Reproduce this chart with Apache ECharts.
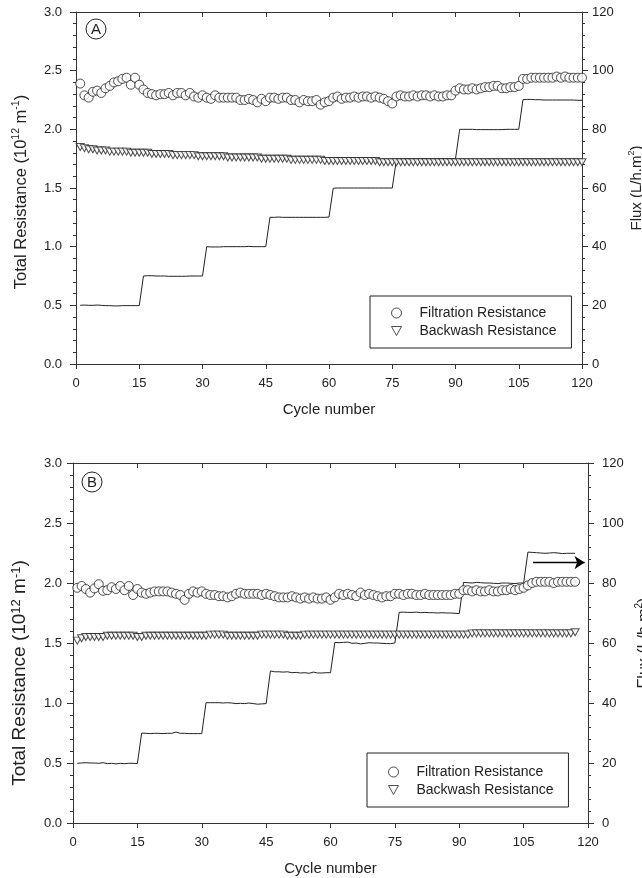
<!DOCTYPE html>
<html>
<head>
    <meta charset="utf-8">
    <title>Total resistance and flux vs cycle number</title>
    <script src="https://cdn.jsdelivr.net/npm/echarts@6/dist/echarts.min.js"></script>
    <style>
        html, body { margin: 0; padding: 0; background: #fff; }
        #chart { width: 642px; height: 878px; }
    </style>
</head>
<body>
    <div id="chart"></div>
    <script type="text/javascript">
        // ---- panel A ----
        var filtrationA = [
            2.39, 2.29, 2.27, 2.32, 2.33, 2.31, 2.35, 2.37, 2.40, 2.41, 2.43, 2.44, 2.38, 2.44, 2.38,
            2.34, 2.31, 2.30, 2.29, 2.30, 2.30, 2.31, 2.29, 2.31, 2.31, 2.29, 2.31, 2.28, 2.27, 2.29,
            2.27, 2.26, 2.29, 2.27, 2.27, 2.27, 2.27, 2.27, 2.25, 2.25, 2.26, 2.25, 2.23, 2.26, 2.24,
            2.27, 2.27, 2.26, 2.27, 2.27, 2.25, 2.25, 2.23, 2.25, 2.24, 2.24, 2.25, 2.21, 2.23, 2.24,
            2.27, 2.28, 2.26, 2.27, 2.27, 2.28, 2.27, 2.28, 2.28, 2.27, 2.28, 2.27, 2.26, 2.24, 2.22,
            2.28, 2.29, 2.28, 2.28, 2.29, 2.28, 2.29, 2.29, 2.28, 2.29, 2.28, 2.28, 2.29, 2.29, 2.33,
            2.35, 2.34, 2.34, 2.35, 2.34, 2.35, 2.36, 2.36, 2.37, 2.37, 2.35, 2.35, 2.36, 2.36, 2.37,
            2.43, 2.43, 2.44, 2.44, 2.44, 2.44, 2.44, 2.44, 2.45, 2.44, 2.45, 2.44, 2.44, 2.44, 2.44
        ];
        var backwashA = [
            1.85, 1.84, 1.83, 1.83, 1.82, 1.82, 1.82, 1.81, 1.81, 1.81, 1.81, 1.81, 1.80, 1.80, 1.80,
            1.80, 1.80, 1.79, 1.79, 1.79, 1.79, 1.79, 1.78, 1.78, 1.78, 1.78, 1.78, 1.78, 1.77, 1.77,
            1.77, 1.77, 1.77, 1.77, 1.77, 1.76, 1.76, 1.76, 1.76, 1.76, 1.76, 1.76, 1.76, 1.75, 1.75,
            1.75, 1.75, 1.75, 1.75, 1.75, 1.74, 1.74, 1.74, 1.74, 1.74, 1.74, 1.74, 1.74, 1.73, 1.73,
            1.73, 1.73, 1.73, 1.73, 1.73, 1.73, 1.73, 1.73, 1.73, 1.73, 1.73, 1.72, 1.72, 1.72, 1.72,
            1.72, 1.72, 1.72, 1.72, 1.72, 1.72, 1.72, 1.72, 1.72, 1.72, 1.72, 1.72, 1.72, 1.72, 1.72,
            1.72, 1.72, 1.72, 1.72, 1.72, 1.72, 1.72, 1.72, 1.72, 1.72, 1.72, 1.72, 1.72, 1.72, 1.72,
            1.72, 1.72, 1.72, 1.72, 1.72, 1.72, 1.72, 1.72, 1.72, 1.72, 1.72, 1.72, 1.72, 1.72, 1.72
        ];
        var fluxA = [
            20.0, 20.1, 20.0, 20.0, 20.1, 20.0, 19.9, 19.9, 19.8, 19.8, 19.9, 19.9, 19.9, 19.9, 19.9,
            30.0, 30.1, 30.1, 30.0, 30.0, 30.0, 29.9, 29.9, 29.9, 29.9, 29.9, 30.0, 30.0, 30.0, 30.0,
            40.0, 39.9, 39.9, 39.9, 40.0, 40.0, 40.0, 40.0, 40.0, 40.0, 40.1, 40.0, 40.0, 40.0, 40.0,
            50.0, 50.0, 50.1, 50.0, 50.0, 50.0, 50.0, 50.0, 50.0, 50.0, 50.0, 50.0, 50.0, 50.0, 50.1,
            59.9, 60.0, 60.0, 60.0, 60.0, 60.0, 60.0, 60.0, 60.0, 60.0, 60.0, 60.0, 60.0, 60.0, 60.0,
            69.8, 69.9, 69.9, 70.0, 70.0, 70.0, 70.0, 70.0, 69.9, 69.9, 70.0, 70.0, 70.0, 70.0, 70.0,
            80.0, 80.0, 80.0, 80.0, 79.9, 79.9, 79.9, 79.9, 79.9, 79.9, 79.9, 80.0, 80.0, 80.0, 80.0,
            90.1, 90.2, 90.2, 90.1, 90.1, 90.0, 90.0, 90.0, 90.0, 90.0, 90.0, 90.0, 90.0, 89.9, 89.9
        ];

        // ---- panel B ----
        var filtrationB = [
            1.96, 1.975, 1.95, 1.92, 1.955, 1.99, 1.935, 1.94, 1.965, 1.95, 1.975, 1.94, 1.975, 1.90, 1.95,
            1.92, 1.91, 1.92, 1.93, 1.93, 1.93, 1.93, 1.92, 1.91, 1.90, 1.86, 1.91, 1.93, 1.92, 1.93,
            1.91, 1.90, 1.90, 1.89, 1.89, 1.88, 1.89, 1.91, 1.92, 1.91, 1.91, 1.91, 1.91, 1.90, 1.91,
            1.90, 1.89, 1.88, 1.88, 1.88, 1.89, 1.88, 1.87, 1.88, 1.87, 1.88, 1.87, 1.87, 1.88, 1.86,
            1.88, 1.91, 1.90, 1.91, 1.90, 1.89, 1.92, 1.90, 1.91, 1.90, 1.89, 1.88, 1.89, 1.89, 1.91,
            1.91, 1.90, 1.91, 1.91, 1.90, 1.90, 1.91, 1.90, 1.90, 1.90, 1.90, 1.90, 1.90, 1.91, 1.91,
            1.94, 1.94, 1.93, 1.94, 1.93, 1.93, 1.94, 1.93, 1.93, 1.94, 1.94, 1.95, 1.94, 1.95, 1.96,
            1.98, 2.00, 2.01, 2.01, 2.01, 2.01, 2.00, 2.01, 2.01, 2.01, 2.01, 2.01
        ];
        var backwashB = [
            1.52, 1.54, 1.55, 1.55, 1.55, 1.55, 1.55, 1.56, 1.56, 1.56, 1.56, 1.56, 1.56, 1.56, 1.55,
            1.55, 1.56, 1.56, 1.56, 1.56, 1.56, 1.56, 1.56, 1.56, 1.56, 1.56, 1.56, 1.56, 1.56, 1.56,
            1.56, 1.57, 1.57, 1.57, 1.57, 1.56, 1.56, 1.56, 1.56, 1.56, 1.56, 1.56, 1.56, 1.57, 1.57,
            1.57, 1.57, 1.57, 1.57, 1.56, 1.56, 1.56, 1.56, 1.57, 1.57, 1.57, 1.57, 1.57, 1.57, 1.57,
            1.57, 1.57, 1.57, 1.57, 1.57, 1.57, 1.57, 1.57, 1.57, 1.57, 1.57, 1.57, 1.57, 1.57, 1.57,
            1.57, 1.57, 1.57, 1.57, 1.57, 1.57, 1.57, 1.57, 1.57, 1.57, 1.57, 1.57, 1.57, 1.57, 1.57,
            1.57, 1.57, 1.58, 1.58, 1.58, 1.58, 1.58, 1.58, 1.58, 1.58, 1.58, 1.58, 1.58, 1.58, 1.58,
            1.58, 1.58, 1.58, 1.58, 1.58, 1.58, 1.58, 1.58, 1.58, 1.58, 1.58, 1.59
        ];
        var fluxB = [
            19.9, 20.0, 20.1, 20.0, 20.0, 19.9, 20.1, 19.8, 19.9, 19.7, 19.9, 19.8, 19.9, 19.9, 19.8,
            30.0, 29.9, 29.8, 29.9, 29.9, 29.8, 29.9, 29.9, 30.3, 29.9, 29.9, 29.8, 29.8, 29.8, 29.8,
            40.1, 40.1, 40.1, 40.1, 40.0, 40.1, 40.0, 39.8, 39.9, 39.8, 40.0, 39.8, 39.6, 39.7, 39.8,
            50.7, 50.4, 50.4, 50.3, 50.4, 50.1, 50.2, 50.0, 50.1, 49.9, 50.3, 50.0, 50.0, 50.1, 50.1,
            60.2, 60.1, 60.2, 60.3, 59.9, 60.0, 59.7, 59.9, 60.1, 60.0, 60.0, 59.9, 59.8, 59.8, 60.0,
            70.2, 70.3, 70.2, 70.2, 70.3, 70.1, 70.2, 70.1, 70.1, 70.0, 70.1, 70.0, 70.0, 69.9, 69.8,
            80.2, 80.1, 80.0, 80.2, 80.1, 80.0, 80.0, 79.9, 79.8, 80.0, 80.0, 79.9, 79.8, 80.0, 80.0,
            90.3, 90.2, 90.1, 90.0, 89.9, 90.0, 90.1, 90.0, 89.8, 89.9, 89.9, 89.9
        ];
        // arrow in panel B pointing at the flux axis: [cycle, flux]
        var arrowB = [[107.2, 86.8], [119.2, 86.8]];

        var xTicks = { min: 0, max: 120, interval: 15 };
        var resTicks = { min: 0, max: 3, interval: 0.5 };
        var fluxTicks = { min: 0, max: 120, interval: 20 };

        var FONT = 'Liberation Sans, Arial, sans-serif';
        var INK = '#222';

        function supStyle(size) {
            return { s: { fontFamily: FONT, fontSize: size, color: INK, verticalAlign: 'top', lineHeight: 20 } };
        }

        function pts(arr) {
            return arr.map(function(v, i) { return [i + 1, v]; });
        }

        function xAxes(grid) {
            return [{
                type: 'value', gridIndex: grid, position: 'bottom',
                min: xTicks.min, max: xTicks.max, interval: xTicks.interval,
                name: 'Cycle number', nameLocation: 'middle', nameGap: 38,
                nameTextStyle: { fontFamily: FONT, fontSize: 15, color: INK },
                axisLine: { show: true, onZero: false, lineStyle: { color: '#333', width: 1 } },
                axisTick: { show: true, inside: false, length: 5, lineStyle: { color: '#333' } },
                axisLabel: { fontFamily: FONT, fontSize: 13, color: INK, margin: 13 },
                splitLine: { show: false }
            }, {
                type: 'value', gridIndex: grid, position: 'top',
                min: xTicks.min, max: xTicks.max, interval: xTicks.interval,
                axisLine: { show: true, onZero: false, lineStyle: { color: '#333', width: 1 } },
                axisTick: { show: true, inside: true, length: 5, lineStyle: { color: '#333' } },
                axisLabel: { show: false },
                splitLine: { show: false }
            }];
        }

        // p: per-panel label margins, title sizes and title offsets
        function yAxes(grid, p) {
            return [{
                type: 'value', gridIndex: grid, position: 'left',
                min: resTicks.min, max: resTicks.max, interval: resTicks.interval,
                name: 'Total Resistance (10{s|12} m{s|-1})', nameLocation: 'middle', nameRotate: 90, nameGap: p.leftGap,
                nameTextStyle: {
                    fontFamily: FONT, fontSize: p.leftSize, color: INK, lineHeight: 20,
                    padding: p.leftPad, rich: supStyle(p.leftSize - 6)
                },
                axisLine: { show: true, onZero: false, lineStyle: { color: '#333', width: 1 } },
                axisTick: { show: true, length: 6, lineStyle: { color: '#333' } },
                minorTick: { show: true, splitNumber: 5, length: 3, lineStyle: { color: '#333' } },
                axisLabel: {
                    fontFamily: FONT, fontSize: 13, color: INK, margin: p.leftMargin,
                    formatter: function(v) { return v.toFixed(1); }
                },
                splitLine: { show: false }
            }, {
                type: 'value', gridIndex: grid, position: 'right',
                min: fluxTicks.min, max: fluxTicks.max, interval: fluxTicks.interval,
                name: 'Flux (L/h.m{s|2})', nameLocation: 'middle', nameRotate: 90, nameGap: p.rightGap,
                nameTextStyle: {
                    fontFamily: FONT, fontSize: p.rightSize, color: INK, lineHeight: 20,
                    rich: supStyle(p.rightSize - 6)
                },
                axisLine: { show: true, onZero: false, lineStyle: { color: '#333', width: 1 } },
                axisTick: { show: true, length: 6, lineStyle: { color: '#333' } },
                minorTick: { show: true, splitNumber: 5, length: 3, lineStyle: { color: '#333' } },
                axisLabel: { fontFamily: FONT, fontSize: 13, color: INK, margin: p.rightMargin },
                splitLine: { show: false }
            }];
        }

        function panelSeries(xi, yi, filt, back, flux, arrow) {
            var fluxSeries = {
                name: 'Flux', type: 'line', xAxisIndex: xi, yAxisIndex: yi + 1,
                data: pts(flux), showSymbol: false, symbol: 'none',
                lineStyle: { color: INK, width: 1 }, z: 1
            };
            if (arrow) {
                fluxSeries.markLine = {
                    silent: true, symbol: ['none', 'arrow'], symbolSize: 10,
                    label: { show: false },
                    lineStyle: { color: '#000', width: 1.3, type: 'solid' },
                    data: [[{ coord: arrow[0] }, { coord: arrow[1] }]]
                };
            }
            return [fluxSeries, {
                name: 'Backwash Resistance', type: 'scatter', xAxisIndex: xi, yAxisIndex: yi,
                data: pts(back), symbol: 'triangle', symbolRotate: 180, symbolSize: [8, 7],
                itemStyle: { color: '#fff', borderColor: INK, borderWidth: 1 }, z: 2
            }, {
                name: 'Filtration Resistance', type: 'scatter', xAxisIndex: xi, yAxisIndex: yi,
                data: pts(filt), symbol: 'circle', symbolSize: 9,
                itemStyle: { color: '#fff', borderColor: INK, borderWidth: 1 }, z: 3
            }];
        }

        function legendBox(left, top, pad) {
            return {
                orient: 'vertical', left: left, top: top,
                padding: pad, itemGap: 4, itemWidth: 10, itemHeight: 10,
                borderColor: INK, borderWidth: 1, selectedMode: false,
                itemStyle: { borderWidth: 1 },
                textStyle: { fontFamily: FONT, fontSize: 14, color: INK, padding: [0, 0, 0, 13] },
                data: [
                    { name: 'Filtration Resistance', icon: 'circle' },
                    { name: 'Backwash Resistance', icon: 'path://M0,0L10,0L5,9Z' }
                ]
            };
        }

        function panelTag(cx, cy, letter) {
            return [{
                type: 'circle', shape: { cx: cx, cy: cy, r: 10 },
                style: { fill: 'none', stroke: INK, lineWidth: 1 }
            }, {
                type: 'text', x: cx, y: cy + 1,
                style: { text: letter, align: 'center', verticalAlign: 'middle', font: '15px ' + FONT, fill: INK }
            }];
        }

        var chart = echarts.init(document.getElementById('chart'), null, { renderer: 'canvas' });
        chart.setOption({
            backgroundColor: '#fff',
            animation: false,
            grid: [
                { left: 76, right: 60, top: 12, height: 352, containLabel: false, outerBoundsMode: 'none' },
                { left: 73, right: 54, top: 463, height: 360, containLabel: false, outerBoundsMode: 'none' }
            ],
            xAxis: xAxes(0).concat(xAxes(1)),
            yAxis: yAxes(0, { leftMargin: 14, leftGap: 45, leftSize: 16.5, leftPad: [0, 8, 0, 0], rightMargin: 10, rightGap: 45, rightSize: 15 })
                .concat(yAxes(1, { leftMargin: 11, leftGap: 43, leftSize: 19, leftPad: [0, 60, 0, 0], rightMargin: 14, rightGap: 44, rightSize: 16 })),
            legend: [legendBox(370, 296, [10, 15, 10, 21]), legendBox(367, 753, [12, 15, 10, 21])],
            series: panelSeries(0, 0, filtrationA, backwashA, fluxA, null)
                .concat(panelSeries(2, 2, filtrationB, backwashB, fluxB, arrowB)),
            graphic: panelTag(96, 29, 'A').concat(panelTag(92, 482, 'B'))
        });
    </script>
</body>
</html>
